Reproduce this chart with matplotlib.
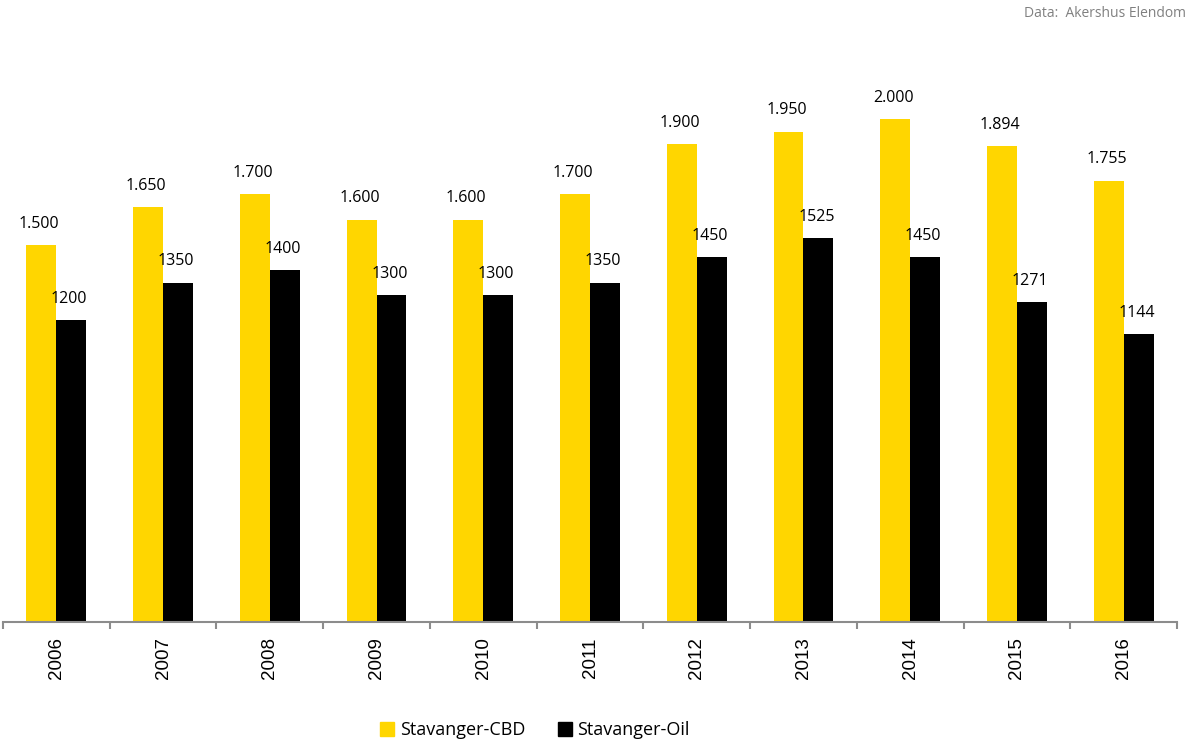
import numpy as np
import matplotlib
matplotlib.use("Agg")
import matplotlib.pyplot as plt
from matplotlib.patches import Patch

years = ["2006", "2007", "2008", "2009", "2010", "2011",
         "2012", "2013", "2014", "2015", "2016"]
cbd = [1500, 1650, 1700, 1600, 1600, 1700, 1900, 1950, 2000, 1894, 1755]
oil = [1200, 1350, 1400, 1300, 1300, 1350, 1450, 1525, 1450, 1271, 1144]

yellow = "#FFD600"
black = "#000000"
label_font = "Open Sans"

fig = plt.figure(figsize=(11.91, 7.45), dpi=100)
ax = fig.add_axes([0.0025, 0.1651, 0.9858, 0.7946])

x = np.arange(len(years))
w = 0.28
b1 = ax.bar(x - w / 2, cbd, w, color=yellow)
b2 = ax.bar(x + w / 2, oil, w, color=black)

# verdi-etiketter over søylene
for rect, v in zip(b1, cbd):
    txt = "{:,}".format(v).replace(",", ".")
    ax.annotate(txt, (rect.get_x() + rect.get_width() / 2 - 0.02, v),
                xytext=(0, 9.5), textcoords="offset points",
                ha="center", va="bottom", fontsize=11.5, family=label_font)
for rect, v in zip(b2, oil):
    ax.annotate(str(v), (rect.get_x() + rect.get_width() / 2 - 0.02, v),
                xytext=(0, 9.5), textcoords="offset points",
                ha="center", va="bottom", fontsize=11.5, family=label_font)

ax.set_xlim(-0.5, len(years) - 0.5)
ax.set_ylim(0, 2354)

for s in ["top", "right", "left"]:
    ax.spines[s].set_visible(False)
ax.spines["bottom"].set_color("#8c8c8c")
ax.spines["bottom"].set_linewidth(1.5)
ax.set_yticks([])

ax.set_xticks(x)
ax.set_xticklabels(years, rotation=90, fontsize=13.5, family="Liberation Sans")
ax.tick_params(axis="x", which="major", length=0, pad=11)
ax.set_xticks(np.arange(-0.5, len(years)), minor=True)
ax.tick_params(axis="x", which="minor", length=5, width=1.5, color="#8c8c8c")

handles = [Patch(color=yellow, label="Stavanger-CBD"),
           Patch(color=black, label="Stavanger-Oil")]
fig.legend(handles=handles, loc="center", bbox_to_anchor=(0.449, 0.02),
           ncol=2, frameon=False, handlelength=0.8, handleheight=0.8,
           handletextpad=0.3, columnspacing=1.8,
           prop={"family": label_font, "size": 13})

fig.text(0.996, 0.982, "Data:  Akershus Elendom", ha="right", va="center",
         color="#808080", fontsize=10, family=label_font)

fig.savefig("out.png", dpi=100)
